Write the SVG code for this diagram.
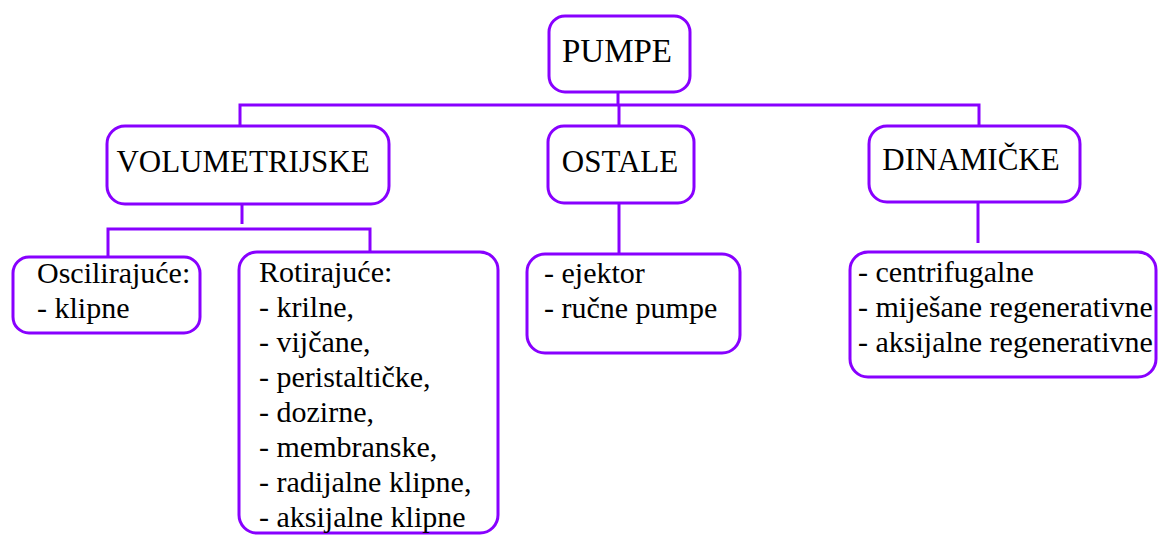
<svg xmlns="http://www.w3.org/2000/svg" width="1158" height="536" viewBox="0 0 1158 536">
<style>
.box{fill:#ffffff;stroke:#8800ff;stroke-width:3}
.con{fill:none;stroke:#8800ff;stroke-width:3}
text{font-family:'Liberation Serif',serif;fill:#000000}
.h{font-size:31px;text-anchor:middle}
.l{font-size:30px}
</style>
<rect x="0" y="0" width="1158" height="536" fill="#ffffff"/>
<g id="connectors">
<path class="con" d="M618 92 V105"/>
<path class="con" d="M240 126 V105 H979 V126"/>
<path class="con" d="M619 105 V126"/>
<path class="con" d="M619 203 V254"/>
<path class="con" d="M978 202 V243"/>
<path class="con" d="M242 204 V224"/>
<path class="con" d="M108 258 V229 H370 V252"/>
</g>
<g font-family="Liberation Serif, serif">
<g id="pumpe">
<rect class="box" x="549" y="16" width="141" height="76" rx="16"/>
<text x="617" y="62" font-size="33" text-anchor="middle">PUMPE</text>
</g>
<g id="volumetrijske">
<rect class="box" x="107" y="126" width="282" height="78" rx="18"/>
<text class="h" x="243" y="172">VOLUMETRIJSKE</text>
</g>
<g id="ostale">
<rect class="box" x="548" y="126" width="146" height="77" rx="16"/>
<text class="h" x="620" y="172">OSTALE</text>
</g>
<g id="dinamicke">
<rect class="box" x="869" y="126" width="211" height="76" rx="18"/>
<text class="h" x="971" y="170">DINAMIČKE</text>
</g>
<g id="oscilirajuce">
<rect class="box" x="13" y="257" width="187" height="76" rx="16"/>
<text class="l" x="37" y="283">Oscilirajuće:</text>
<text class="l" x="37" y="318">- klipne</text>
</g>
<g id="rotirajuce">
<rect class="box" x="239" y="252" width="259" height="281" rx="18"/>
<text class="l" x="259" y="282">Rotirajuće:</text>
<text class="l" x="259" y="317">- krilne,</text>
<text class="l" x="259" y="352">- vijčane,</text>
<text class="l" x="259" y="387">- peristaltičke,</text>
<text class="l" x="259" y="422">- dozirne,</text>
<text class="l" x="259" y="457">- membranske,</text>
<text class="l" x="259" y="492">- radijalne klipne,</text>
<text class="l" x="259" y="527">- aksijalne klipne</text>
</g>
<g id="ostale-list">
<rect class="box" x="527" y="254" width="213" height="99" rx="18"/>
<text class="l" x="544" y="283">- ejektor</text>
<text class="l" x="544" y="318">- ručne pumpe</text>
</g>
<g id="dinamicke-list">
<rect class="box" x="850" y="252" width="306" height="125" rx="18"/>
<text class="l" x="858" y="282">- centrifugalne</text>
<text class="l" x="858" y="317">- miješane regenerativne</text>
<text class="l" x="858" y="352">- aksijalne regenerativne</text>
</g>
</g>
</svg>
